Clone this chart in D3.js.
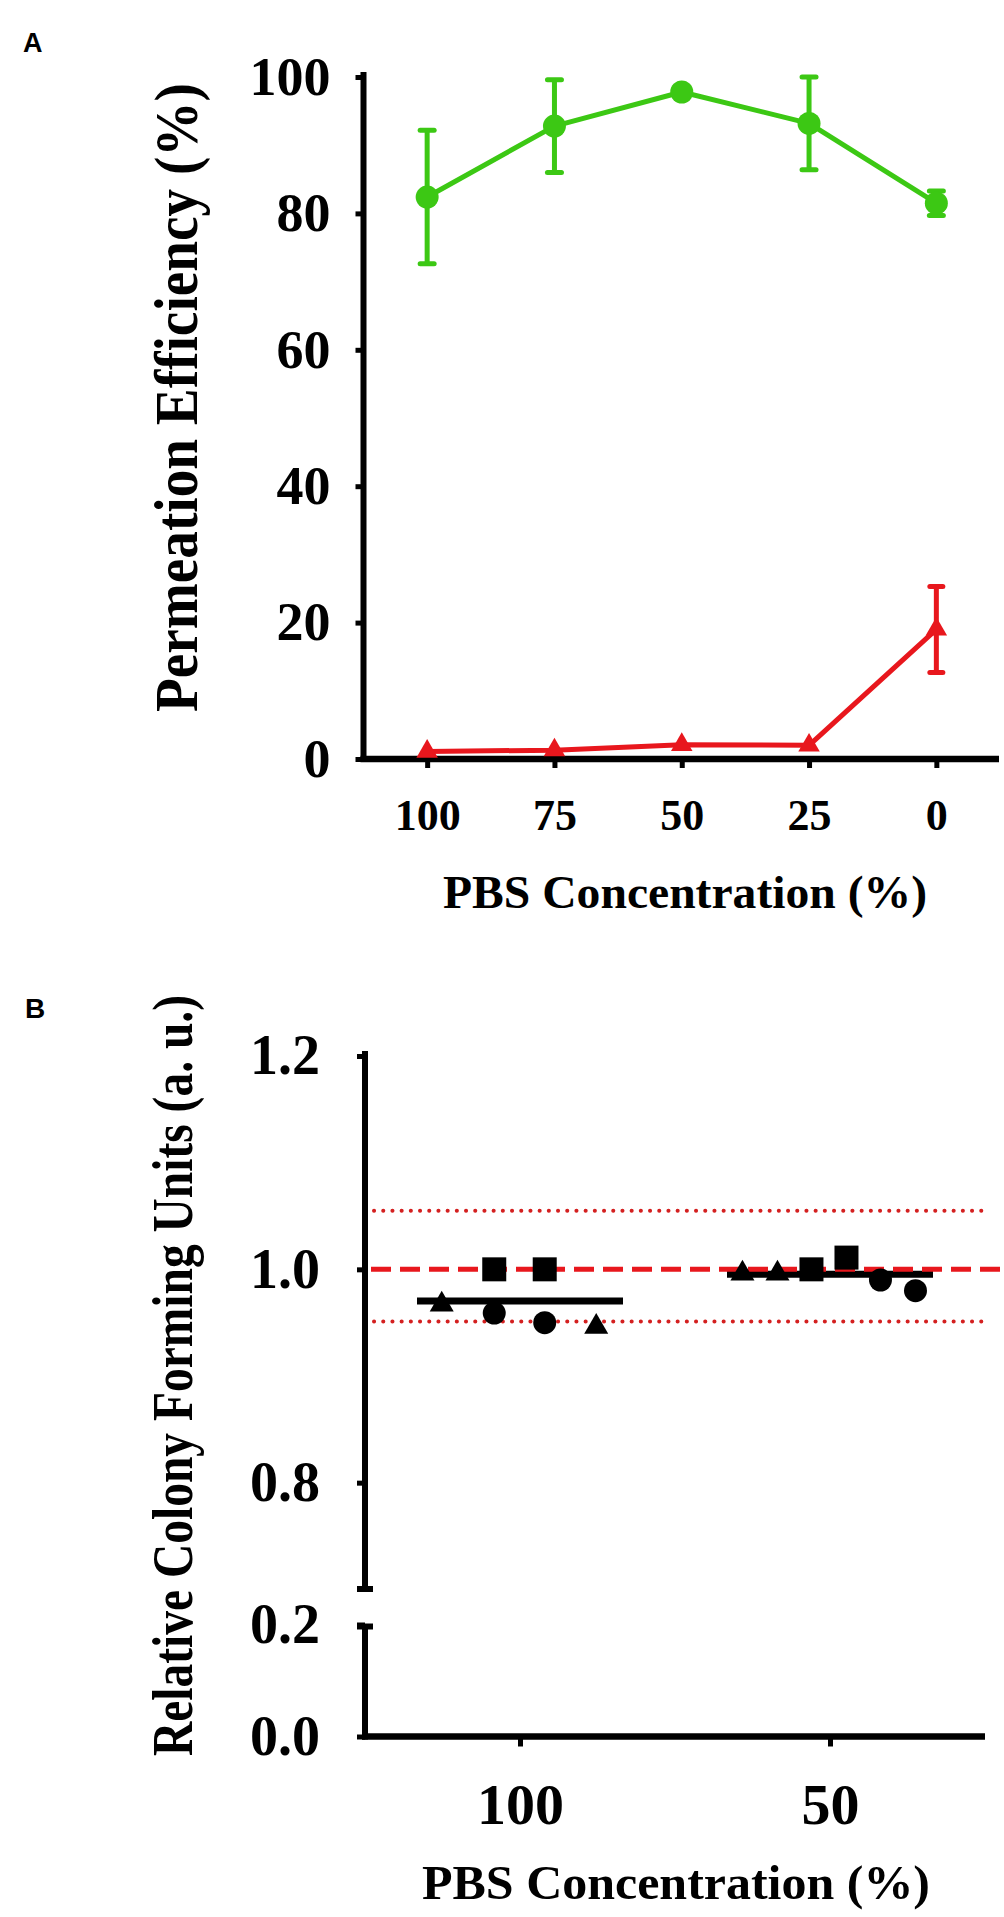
<!DOCTYPE html>
<html>
<head>
<meta charset="utf-8">
<script src="https://cdn.jsdelivr.net/npm/d3@7"></script>
<style>
  body { margin: 0; background: #fff; }
  svg { display: block; }
</style>
</head>
<body>
<div id="chart"></div>
<script>
// ---- panel A data ----
const concA = ["100", "75", "50", "25", "0"];
const greenMean = [82.4, 92.8, 97.8, 93.2, 81.5];
const greenErr = [9.8, 6.8, 0.5, 6.8, 1.8];
const redMean = [1.1, 1.3, 2.1, 2.0, 19.0];
const redErr = [0, 0, 0, 0, 6.3];
const yTicksA = [0, 20, 40, 60, 80, 100];

// ---- panel B data ----
const concB = ["100", "50"];
const cfu100 = [0.967, 1.0, 0.959, 1.0, 0.95, 0.946];
const cfu50 = [0.996, 0.996, 1.0, 1.011, 0.99, 0.98];
const shapes100 = ["triangle", "square", "circle", "square", "circle", "triangle"];
const shapes50 = ["triangle", "triangle", "square", "square", "circle", "circle"];
const jitter100 = [-0.76, -0.25, -0.25, 0.24, 0.24, 0.74];
const jitter50 = [-0.85, -0.51, -0.18, 0.16, 0.49, 0.83];
const refLines = [1.055, 0.951];
const yTicksUpper = [0.8, 1.0, 1.2];
const yTicksLower = [0.0, 0.2];

const width = 1004;
const height = 1917;
const serif = "'Liberation Serif', 'Times New Roman', serif";
const sans = "'Liberation Sans', Arial, sans-serif";
const green = "#3cc814";
const red = "#e8171d";

const svg = d3.select("#chart")
  .append("svg")
  .attr("width", width)
  .attr("height", height)
  .attr("viewBox", [0, 0, width, height]);

// ================= Panel A =================
const leftA = 363.5, rightA = 1000;
const xA = d3.scalePoint().domain(concA).range([leftA, rightA]).padding(0.5);
const yA = d3.scaleLinear().domain([0, 100]).range([759, 77]);

svg.append("text")
  .attr("x", 23).attr("y", 52)
  .attr("font-family", sans).attr("font-weight", "bold").attr("font-size", 27)
  .text("A");

// y axis
const gyA = svg.append("g")
  .attr("transform", `translate(${leftA},0)`)
  .call(d3.axisLeft(yA).tickValues(yTicksA).tickSize(8).tickPadding(25).tickFormat(d3.format("d")));
gyA.select(".domain").remove();
gyA.selectAll(".tick line").attr("stroke", "#000").attr("stroke-width", 5);
gyA.selectAll(".tick text")
  .attr("font-family", serif).attr("font-weight", "bold").attr("font-size", 54).attr("fill", "#000");
svg.append("line")
  .attr("x1", leftA).attr("x2", leftA)
  .attr("y1", yA(100) - 5).attr("y2", yA(0) + 3)
  .attr("stroke", "#000").attr("stroke-width", 6);

// x axis
const gxA = svg.append("g")
  .attr("transform", `translate(0,${yA(0)})`)
  .call(d3.axisBottom(xA).tickSize(9));
gxA.select(".domain").remove();
gxA.selectAll(".tick line").attr("stroke", "#000").attr("stroke-width", 5);
gxA.selectAll(".tick text")
  .attr("y", 71).attr("dy", null)
  .attr("font-family", serif).attr("font-weight", "bold").attr("font-size", 44).attr("fill", "#000");
svg.append("line")
  .attr("x1", leftA - 3).attr("x2", rightA - 1)
  .attr("y1", yA(0)).attr("y2", yA(0))
  .attr("stroke", "#000").attr("stroke-width", 6.5);

svg.append("text")
  .attr("x", 685).attr("y", 908)
  .attr("text-anchor", "middle")
  .attr("font-family", serif).attr("font-weight", "bold").attr("font-size", 46)
  .attr("textLength", 484).attr("lengthAdjust", "spacingAndGlyphs")
  .text("PBS Concentration (%)");

svg.append("text")
  .attr("transform", "translate(197,397.5) rotate(-90)")
  .attr("text-anchor", "middle")
  .attr("font-family", serif).attr("font-weight", "bold").attr("font-size", 62)
  .attr("textLength", 629).attr("lengthAdjust", "spacingAndGlyphs")
  .text("Permeation Efficiency (%)");

function drawSeries(means, errs, color, symbolType, symbolSize, capW) {
  const pts = concA.map((c, i) => ({ c, v: means[i], e: errs[i] }));
  const g = svg.append("g");
  g.append("path")
    .datum(pts)
    .attr("fill", "none")
    .attr("stroke", color)
    .attr("stroke-width", 5)
    .attr("stroke-linejoin", "round")
    .attr("d", d3.line().x(d => xA(d.c)).y(d => yA(d.v)));
  const eb = g.selectAll(".err").data(pts.filter(d => d.e > 0)).join("g")
    .attr("stroke", color).attr("stroke-width", 5);
  eb.append("line")
    .attr("x1", d => xA(d.c)).attr("x2", d => xA(d.c))
    .attr("y1", d => yA(d.v + d.e)).attr("y2", d => yA(d.v - d.e));
  eb.append("line")
    .attr("x1", d => xA(d.c) - capW / 2).attr("x2", d => xA(d.c) + capW / 2)
    .attr("y1", d => yA(d.v + d.e)).attr("y2", d => yA(d.v + d.e))
    .attr("stroke-linecap", "round");
  eb.append("line")
    .attr("x1", d => xA(d.c) - capW / 2).attr("x2", d => xA(d.c) + capW / 2)
    .attr("y1", d => yA(d.v - d.e)).attr("y2", d => yA(d.v - d.e))
    .attr("stroke-linecap", "round");
  g.selectAll(".pt").data(pts).join("path")
    .attr("transform", d => `translate(${xA(d.c)},${yA(d.v)})`)
    .attr("d", d3.symbol().type(symbolType).size(symbolSize))
    .attr("fill", color);
}
drawSeries(greenMean, greenErr, green, d3.symbolCircle, Math.PI * 11.5 * 11.5, 14);
drawSeries(redMean, redErr, red, d3.symbolTriangle, 200, 13);

// ================= Panel B =================
const leftB = 365, rightB = 985;
const xB = d3.scalePoint().domain(concB).range([leftB, rightB]).padding(0.5);
const yUp = d3.scaleLinear().domain([0.6975, 1.2]).range([1592, 1056]);
const yLo = d3.scaleLinear().domain([0, 0.2]).range([1736.5, 1624.5]);
const jx = d3.scaleLinear().domain([-1, 1]).range([-103, 103]);

svg.append("text")
  .attr("x", 25).attr("y", 1018)
  .attr("font-family", sans).attr("font-weight", "bold").attr("font-size", 28)
  .text("B");

function styleYB(g) {
  g.select(".domain").remove();
  g.selectAll(".tick line").attr("stroke", "#000").attr("stroke-width", 5);
  g.selectAll(".tick text")
    .attr("font-family", serif).attr("font-weight", "bold").attr("font-size", 56).attr("fill", "#000");
}
svg.append("g")
  .attr("transform", `translate(${leftB},0)`)
  .call(d3.axisLeft(yUp).tickValues(yTicksUpper).tickSize(8).tickPadding(37).tickFormat(d3.format(".1f")))
  .call(styleYB);
svg.append("g")
  .attr("transform", `translate(${leftB},0)`)
  .call(d3.axisLeft(yLo).tickValues(yTicksLower).tickSize(8).tickPadding(37).tickFormat(d3.format(".1f")))
  .call(styleYB);

// broken y axis segments
svg.append("line")
  .attr("x1", leftB).attr("x2", leftB)
  .attr("y1", yUp(1.2) - 5).attr("y2", yUp.range()[0])
  .attr("stroke", "#000").attr("stroke-width", 6);
svg.append("line")
  .attr("x1", leftB).attr("x2", leftB)
  .attr("y1", yLo(0.2)).attr("y2", yLo(0) + 3)
  .attr("stroke", "#000").attr("stroke-width", 6);
svg.append("line")
  .attr("x1", leftB - 8).attr("x2", leftB + 8)
  .attr("y1", yUp.range()[0] - 3).attr("y2", yUp.range()[0] - 3)
  .attr("stroke", "#000").attr("stroke-width", 6);
svg.append("line")
  .attr("x1", leftB - 8).attr("x2", leftB + 8)
  .attr("y1", yLo(0.2) + 2).attr("y2", yLo(0.2) + 2)
  .attr("stroke", "#000").attr("stroke-width", 6);

// x axis
const gxB = svg.append("g")
  .attr("transform", `translate(0,${yLo(0)})`)
  .call(d3.axisBottom(xB).tickSize(10));
gxB.select(".domain").remove();
gxB.selectAll(".tick line").attr("stroke", "#000").attr("stroke-width", 5);
gxB.selectAll(".tick text")
  .attr("y", 87).attr("dy", null)
  .attr("font-family", serif).attr("font-weight", "bold").attr("font-size", 58).attr("fill", "#000");
svg.append("line")
  .attr("x1", leftB - 3).attr("x2", rightB)
  .attr("y1", yLo(0)).attr("y2", yLo(0))
  .attr("stroke", "#000").attr("stroke-width", 6.5);

svg.append("text")
  .attr("x", 676).attr("y", 1899)
  .attr("text-anchor", "middle")
  .attr("font-family", serif).attr("font-weight", "bold").attr("font-size", 48)
  .attr("textLength", 508).attr("lengthAdjust", "spacingAndGlyphs")
  .text("PBS Concentration (%)");

svg.append("text")
  .attr("transform", "translate(192,1375.5) rotate(-90)")
  .attr("text-anchor", "middle")
  .attr("font-family", serif).attr("font-weight", "bold").attr("font-size", 56)
  .attr("textLength", 761).attr("lengthAdjust", "spacingAndGlyphs")
  .text("Relative Colony Forming Units (a. u.)");

// group data
const groups = [
  { c: "100", vals: cfu100, shapes: shapes100, jit: jitter100 },
  { c: "50", vals: cfu50, shapes: shapes50, jit: jitter50 }
];

// mean lines
svg.append("g").selectAll("line").data(groups).join("line")
  .attr("x1", d => xB(d.c) + jx(-1)).attr("x2", d => xB(d.c) + jx(1))
  .attr("y1", d => yUp(d3.mean(d.vals))).attr("y2", d => yUp(d3.mean(d.vals)))
  .attr("stroke", "#000").attr("stroke-width", 7);

// reference lines
svg.append("g").selectAll("line").data(refLines).join("line")
  .attr("x1", leftB + 9).attr("x2", rightB)
  .attr("y1", d => yUp(d)).attr("y2", d => yUp(d))
  .attr("stroke", "#d42020").attr("stroke-width", 4)
  .attr("stroke-linecap", "round").attr("stroke-dasharray", "0.1,9.1");
svg.append("line")
  .attr("x1", leftB + 6).attr("x2", width)
  .attr("y1", yUp(1)).attr("y2", yUp(1))
  .attr("stroke", red).attr("stroke-width", 5)
  .attr("stroke-dasharray", "20,9");

// points
const symbolMap = {
  triangle: d3.symbol().type(d3.symbolTriangle).size(250),
  square: d3.symbol().type(d3.symbolSquare).size(576),
  circle: d3.symbol().type(d3.symbolCircle).size(415)
};
const pointsB = groups.flatMap(g => g.vals.map((v, i) => ({ c: g.c, v, s: g.shapes[i], j: g.jit[i] })));
svg.append("g").selectAll("path").data(pointsB).join("path")
  .attr("transform", d => `translate(${xB(d.c) + jx(d.j)},${yUp(d.v)})`)
  .attr("d", d => symbolMap[d.s]())
  .attr("fill", "#000");
</script>
</body>
</html>
